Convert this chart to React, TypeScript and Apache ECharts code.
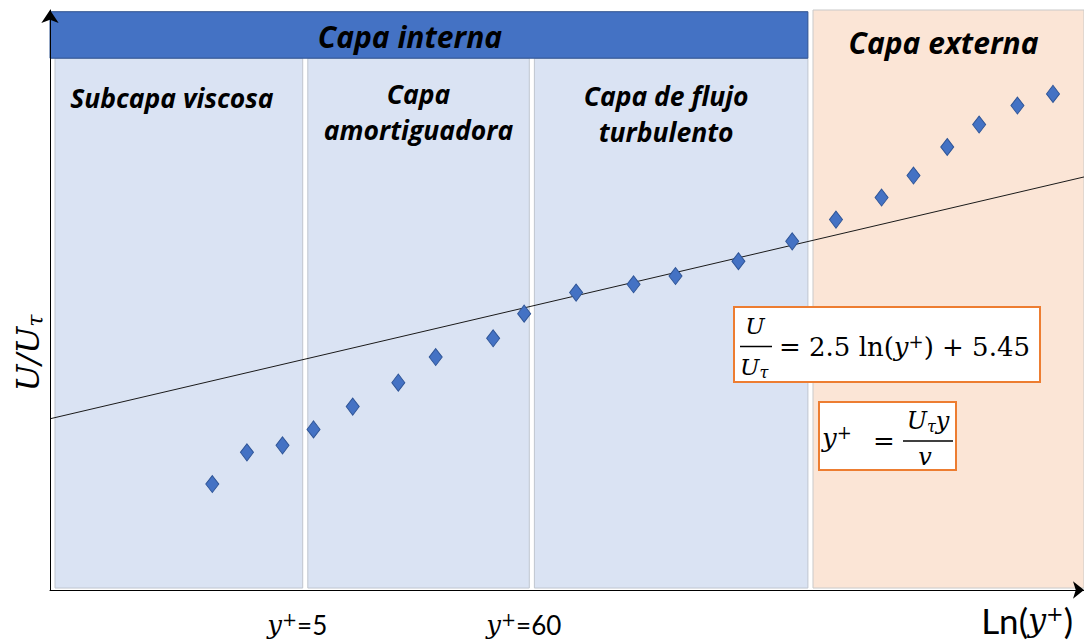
import React, { useEffect, useRef } from "react";
import * as echarts from "echarts";

// Horizontal axis: ln(y+); vertical axis: U/U_tau
const X_MIN = -1.19;
const X_MAX = 10.15;
const Y_MIN = -17.6;
const Y_MAX = 50.4;

// Measured velocity profile (ln y+, U/U_tau)
const lnYPlus = [0.59, 0.97, 1.36, 1.70, 2.13, 2.63, 3.04, 3.67, 4.01, 4.58, 5.21, 5.67, 6.36, 6.95, 7.43, 7.93, 8.28, 8.65, 9.00, 9.42, 9.81];
const uPlus = [-5.18, -1.46, -0.64, 1.23, 3.90, 6.71, 9.71, 11.91, 14.80, 17.27, 18.24, 19.21, 20.94, 23.28, 25.83, 28.41, 30.99, 34.34, 36.97, 39.20, 40.56];

// Log law: U/U_tau = KAPPA_INV * ln(y+) + B
const KAPPA_INV = 2.5;
const B = 5.45;

// Region limits on the y+ scale
const yPlusTicks = [5, 60];
const tickLabels = ["=5", "=60"];
const outerLayerStart = 7.15; // ln(y+) where the outer layer begins

const innerRegions = ["Subcapa viscosa", "Capa\namortiguadora", "Capa de flujo\nturbulento"];
const innerTitle = "Capa interna";
const outerTitle = "Capa externa";

// Header band and plot floor in U/U_tau units
const HEADER_BOTTOM = 44.75;
const HEADER_TOP = 50.2;
const FLOOR = -17.37;
const GAP = 0.028;

const SERIF = "'DejaVu Serif', 'Liberation Serif', serif";
const SANS = "'Open Sans', Lato, sans-serif";
const PLAIN = "Lato, 'Open Sans', sans-serif";

export default function App() {
  const ref = useRef<HTMLDivElement>(null);

  useEffect(() => {
    if (!ref.current) return;
    const chart = echarts.init(ref.current, null, { renderer: "svg" });

    const points = lnYPlus.map((x, i) => [x, uPlus[i]]);
    const lawLine = [X_MIN, X_MAX].map((x) => [x, KAPPA_INV * x + B]);
    const tickValues = yPlusTicks.map((v) => Math.log(v));
    const edges = [X_MIN + 0.055, tickValues[0], tickValues[1], outerLayerStart];

    const regionLabel = (dist: number, lh: number, size = 26.5) => ({
      show: true,
      position: "insideTop",
      distance: dist,
      color: "#000",
      fontFamily: SANS,
      fontStyle: "italic",
      fontWeight: "bold",
      fontSize: size,
      lineHeight: lh,
      align: "center",
    });

    const blueStyle = { color: "#DAE3F3", borderColor: "#BFC5CF", borderWidth: 1 };

    // per-region label placement: [distance from top, line height, x offset]
    const labelPlacement = [
      [25, 30, -7],
      [18, 36, 0],
      [20, 36, -5],
    ];

    const areas: any[] = innerRegions.map((name, i) => [
      {
        name,
        xAxis: i === 0 ? edges[0] : edges[i] + GAP,
        yAxis: HEADER_BOTTOM,
        itemStyle: blueStyle,
        label: {
          ...regionLabel(labelPlacement[i][0], labelPlacement[i][1]),
          offset: [labelPlacement[i][2], 0],
        },
      },
      { xAxis: edges[i + 1] - GAP, yAxis: FLOOR },
    ]);
    areas.push([
      {
        name: outerTitle,
        xAxis: outerLayerStart + GAP,
        yAxis: Y_MAX,
        itemStyle: { color: "#FBE5D6", borderColor: "#C9C9C9", borderWidth: 1 },
        label: { ...regionLabel(16, 34, 30), offset: [-5, 0] },
      },
      { xAxis: X_MAX, yAxis: FLOOR },
    ]);
    areas.push([
      {
        name: innerTitle,
        xAxis: X_MIN,
        yAxis: HEADER_TOP,
        itemStyle: { color: "#4472C4", borderColor: "#2F528F", borderWidth: 1 },
        label: {
          ...regionLabel(0, 34, 30),
          position: "inside",
          offset: [-19, 2],
        },
      },
      { xAxis: outerLayerStart - GAP, yAxis: HEADER_BOTTOM },
    ]);

    const mathRich = {
      i: { fontFamily: SERIF, fontStyle: "italic", fontSize: 26, lineHeight: 30, color: "#000" },
      n: { fontFamily: SERIF, fontSize: 26, lineHeight: 30, color: "#000" },
      s: { fontFamily: SERIF, fontSize: 18, lineHeight: 18, verticalAlign: "top", color: "#000" },
      c: { fontFamily: PLAIN, fontSize: 26, lineHeight: 30, color: "#000" },
    };

    const axisNameRich = {
      i: { fontFamily: SERIF, fontStyle: "italic", fontSize: 32, lineHeight: 34, color: "#000" },
      s: { fontFamily: SERIF, fontSize: 21, lineHeight: 20, verticalAlign: "top", color: "#000" },
      L: { fontFamily: PLAIN, fontSize: 35, lineHeight: 34, color: "#000" },
    };

    const Z = 100;

    chart.setOption({
      animation: false,
      grid: { left: 50, right: 0, top: 10, bottom: 52 },
      xAxis: {
        type: "value",
        min: X_MIN,
        max: X_MAX,
        z: 10,
        axisLine: {
          show: true,
          onZero: false,
          symbol: ["none", "arrow"],
          symbolSize: [13, 11],
          lineStyle: { color: "#000", width: 1 },
        },
        axisTick: { show: false },
        splitLine: { show: false },
        axisLabel: {
          show: true,
          customValues: tickValues,
          margin: 20,
          padding: [0, 16, 0, 0],
          formatter: (v: number) => {
            const idx = tickValues.findIndex((t) => Math.abs(t - v) < 1e-6);
            return `{i|y}{s|+}{c|${tickLabels[idx < 0 ? 0 : idx]}}`;
          },
          rich: mathRich,
        },
      },
      yAxis: {
        type: "value",
        min: Y_MIN,
        max: Y_MAX,
        z: 10,
        axisLine: {
          show: true,
          onZero: false,
          symbol: ["none", "arrow"],
          symbolSize: [13, 13],
          lineStyle: { color: "#000", width: 1 },
        },
        axisTick: { show: false },
        axisLabel: { show: false },
        splitLine: { show: false },
      },
      series: [
        {
          type: "line",
          data: [],
          z: 1,
          silent: true,
          markArea: { silent: true, data: areas },
        },
        {
          type: "line",
          data: lawLine,
          z: 2,
          symbol: "none",
          silent: true,
          lineStyle: { color: "#1a1a1a", width: 1 },
        },
        {
          type: "scatter",
          data: points,
          z: 3,
          symbol: "diamond",
          symbolSize: [13, 17],
          itemStyle: { color: "#4472C4", borderColor: "#2F5597", borderWidth: 1, opacity: 1 },
        },
      ],
      graphic: [
        {
          type: "text",
          x: 28,
          y: 353,
          z: Z,
          rotation: Math.PI / 2,
          style: {
            text: "{u|U/U}{t|τ}",
            align: "center",
            verticalAlign: "middle",
            rich: {
              u: { fontFamily: SERIF, fontStyle: "italic", fontSize: 32, lineHeight: 36, color: "#000" },
              t: { fontFamily: SERIF, fontStyle: "italic", fontSize: 22, lineHeight: 20, verticalAlign: "bottom", color: "#000" },
            },
          },
        },
        {
          type: "text",
          x: 1073,
          y: 620,
          z: Z,
          style: {
            text: "{L|Ln(}{i|y}{s|+}{L|)}",
            align: "right",
            verticalAlign: "middle",
            rich: axisNameRich,
          },
        },
        {
          type: "rect",
          z: Z,
          shape: { x: 734, y: 307, width: 306, height: 75 },
          style: { fill: "#fff", stroke: "#ED7D31", lineWidth: 2 },
        },
        {
          type: "text",
          z: Z + 1,
          x: 755,
          y: 326,
          style: { text: "U", align: "center", verticalAlign: "middle", font: `italic 23px ${SERIF}`, fill: "#000" },
        },
        {
          type: "line",
          z: Z + 1,
          shape: { x1: 740, y1: 346.5, x2: 772, y2: 346.5 },
          style: { stroke: "#000", lineWidth: 1.5 },
        },
        {
          type: "text",
          z: Z + 1,
          x: 740,
          y: 367,
          style: {
            text: "{u|U}{t|τ}",
            align: "left",
            verticalAlign: "middle",
            rich: {
              u: { fontFamily: SERIF, fontStyle: "italic", fontSize: 23, lineHeight: 26, color: "#000" },
              t: { fontFamily: SERIF, fontStyle: "italic", fontSize: 16, lineHeight: 14, verticalAlign: "bottom", color: "#000" },
            },
          },
        },
        {
          type: "text",
          z: Z + 1,
          x: 779,
          y: 347,
          style: {
            text: `{n|= ${KAPPA_INV} ln(}{i|y}{s|+}{n|) + ${B}}`,
            align: "left",
            verticalAlign: "middle",
            rich: mathRich,
          },
        },
        {
          type: "rect",
          z: Z,
          shape: { x: 819, y: 402, width: 137, height: 68 },
          style: { fill: "#fff", stroke: "#ED7D31", lineWidth: 2 },
        },
        {
          type: "text",
          z: Z + 1,
          x: 822,
          y: 438,
          style: { text: "{i|y}{s|+}", align: "left", verticalAlign: "middle", rich: mathRich },
        },
        {
          type: "text",
          z: Z + 1,
          x: 884,
          y: 441,
          style: { text: "=", align: "center", verticalAlign: "middle", font: `26px ${SERIF}`, fill: "#000" },
        },
        {
          type: "line",
          z: Z + 1,
          shape: { x1: 903, y1: 441, x2: 953, y2: 441 },
          style: { stroke: "#000", lineWidth: 1.5 },
        },
        {
          type: "text",
          z: Z + 1,
          x: 928,
          y: 421,
          style: {
            text: "{u|U}{t|τ}{u|y}",
            align: "center",
            verticalAlign: "middle",
            rich: {
              u: { fontFamily: SERIF, fontStyle: "italic", fontSize: 24, lineHeight: 26, color: "#000" },
              t: { fontFamily: SERIF, fontStyle: "italic", fontSize: 16, lineHeight: 14, verticalAlign: "bottom", color: "#000" },
            },
          },
        },
        {
          type: "text",
          z: Z + 1,
          x: 925,
          y: 457,
          style: { text: "v", align: "center", verticalAlign: "middle", font: `italic 24px ${SERIF}`, fill: "#000" },
        },
      ],
    });

    return () => chart.dispose();
  }, []);

  return (
    <div
      ref={ref}
      style={{ position: "fixed", left: 0, top: 0, width: 1084, height: 642, background: "#fff" }}
    />
  );
}
